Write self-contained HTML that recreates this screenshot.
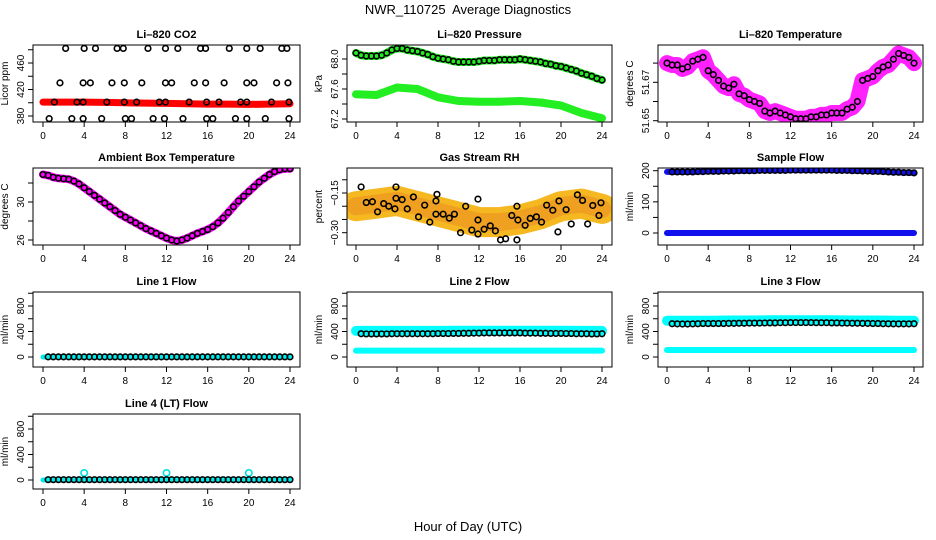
<!DOCTYPE html>
<html><head><meta charset="utf-8">
<style>
html,body{margin:0;padding:0;background:#fff;}
svg{display:block;font-family:"Liberation Sans",Arial,sans-serif;}
</style></head>
<body>
<svg id="chart" width="936" height="540" viewBox="0 0 936 540">
<rect x="0" y="0" width="936" height="540" fill="#fff"/>
<text x="468" y="14" text-anchor="middle" font-size="13" style="white-space:pre">NWR_110725  Average Diagnostics</text>
<text x="468" y="531" text-anchor="middle" font-size="13">Hour of Day (UTC)</text>
</svg>
<script>
const H49 = [0,0.5,1,1.5,2,2.5,3,3.5,4,4.5,5,5.5,6,6.5,7,7.5,8,8.5,9,9.5,10,10.5,11,11.5,12,12.5,13,13.5,14,14.5,15,15.5,16,16.5,17,17.5,18,18.5,19,19.5,20,20.5,21,21.5,22,22.5,23,23.5,24];
const H13 = [0,2,4,6,8,10,12,14,16,18,20,22,24];
const xTicks = [0,4,8,12,16,20,24];

// Li-820 CO2
const co2BandVals = [401,401,401,400.5,400,399.5,399,398.5,398,398,397.5,398,398.5];
const co2Hours = [2.2,4.0,5.1,7.2,7.8,10.2,11.9,13.1,15.3,15.8,18.1,19.8,21.1,23.2,23.7,
  1.65,3.9,4.6,6.7,7.9,9.6,11.9,12.5,14.7,15.8,17.6,19.8,20.5,22.7,23.8,
  1.1,3.3,3.9,6.2,7.9,9.1,11.3,11.9,14.2,15.9,17.1,19.2,19.8,22.2,23.9,
  0.6,2.8,3.9,5.7,8.0,8.6,10.7,11.8,13.6,15.9,16.5,18.7,19.8,21.6,23.9];
const co2Vals = [482,482,482,482,482,482,482,482,482,482,482,482,482,482,482,
  430,430,430,430,430,430,430,430,430,430,430,430,430,430,430,
  401,401,401,401,401,401,401,401,401,401,401,401,401,401,401,
  376,376,376,376,376,376,376,376,376,376,376,376,376,376,376];

// Li-820 Pressure
const presUpper = [68.08,68.05,68.04,68.04,68.04,68.05,68.08,68.12,68.14,68.14,68.12,68.11,68.10,68.08,68.06,68.03,68.01,68.0,67.99,67.97,67.96,67.96,67.96,67.96,67.97,67.98,67.98,67.98,67.99,67.99,67.99,67.99,68.0,67.99,67.98,67.97,67.96,67.94,67.93,67.91,67.90,67.88,67.86,67.84,67.81,67.79,67.77,67.74,67.72];
const presLower = [67.53,67.52,67.62,67.60,67.49,67.44,67.43,67.43,67.44,67.42,67.38,67.28,67.21];

// Li-820 Temperature
const ltemp = [51.680,51.679,51.679,51.677,51.678,51.681,51.682,51.683,51.676,51.674,51.671,51.668,51.667,51.669,51.664,51.663,51.661,51.660,51.659,51.655,51.654,51.655,51.654,51.653,51.652,51.651,51.651,51.651,51.652,51.652,51.653,51.653,51.654,51.654,51.654,51.656,51.657,51.660,51.671,51.672,51.673,51.676,51.678,51.679,51.682,51.685,51.684,51.683,51.680];

// Ambient Box Temperature
const ambient = [32.9,32.8,32.6,32.5,32.45,32.4,32.2,31.9,31.5,31.1,30.7,30.3,29.9,29.5,29.1,28.7,28.4,28.1,27.8,27.5,27.2,26.95,26.7,26.45,26.2,26.0,25.9,26.0,26.2,26.45,26.7,26.9,27.1,27.4,27.8,28.3,28.9,29.5,30.1,30.6,31.1,31.6,32.1,32.5,32.9,33.2,33.4,33.5,33.5];

// Gas Stream RH
const rhBand = [-0.20,-0.19,-0.18,-0.20,-0.22,-0.24,-0.26,-0.26,-0.25,-0.23,-0.20,-0.19,-0.21];
const rhHours = [0.5,1.0,1.6,2.1,2.7,3.2,3.8,3.9,3.9,4.5,5.0,5.6,6.1,6.7,7.2,7.8,7.9,7.8,8.5,9.1,9.6,10.2,10.7,11.3,11.9,11.9,11.9,12.5,13.1,13.6,14.1,14.6,15.2,15.7,15.7,15.8,16.5,17.0,17.6,18.1,18.6,19.2,19.7,19.8,20.5,21.0,21.6,22.1,22.6,23.1,23.7,23.9];
const rhVals = [-0.127,-0.186,-0.183,-0.221,-0.19,-0.2,-0.21,-0.127,-0.17,-0.175,-0.21,-0.165,-0.24,-0.196,-0.26,-0.18,-0.155,-0.23,-0.23,-0.245,-0.23,-0.30,-0.2,-0.29,-0.305,-0.173,-0.252,-0.287,-0.274,-0.293,-0.327,-0.323,-0.235,-0.2,-0.327,-0.252,-0.272,-0.246,-0.24,-0.26,-0.196,-0.215,-0.297,-0.18,-0.213,-0.267,-0.157,-0.178,-0.267,-0.197,-0.235,-0.187];

// Sample Flow
const sampleUpper = [196,196,196,196,196,196,197,197,198,198,198,199,199,199,200,200,200,200,201,201,201,201,201,201,202,202,202,202,202,202,202,202,202,201,201,201,200,200,199,199,198,198,197,196,195,195,194,194,193];
const sampleLower = [0,0,0,0,0,0,0,0,0,0,0,0,0];

// Line flows
const line1Cyan = [0,0,0,0,0,0,0,0,0,0,0,0,0];
const line1Black = [2,2,2,2,2,2,2,2,2,2,2,2,2,2,2,2,2,2,2,2,2,2,2,2,2,2,2,2,2,2,2,2,2,2,2,2,2,2,2,2,2,2,2,2,2,2,2,2,2];
const line2Upper = [410,410,410,410,410,412,412,412,412,412,412,410,410];
const line2Lower = [100,100,100,100,100,100,100,100,100,100,100,100,100];
const line2Black = [370,365,362,362,362,362,362,365,365,365,365,365,365,365,365,365,368,368,368,370,370,372,372,375,375,378,378,378,378,378,378,378,378,375,375,375,372,372,370,370,370,368,368,365,365,365,362,362,365];
const line3Upper = [570,570,570,572,572,575,575,575,575,572,572,570,570];
const line3Lower = [110,110,110,110,110,110,110,110,110,110,110,110,110];
const line3Black = [525,522,520,518,518,520,522,525,525,525,525,525,528,528,530,530,532,532,532,534,535,535,538,538,540,540,540,540,540,538,538,538,535,535,532,532,530,530,528,528,525,525,522,522,520,520,520,520,522];
const line4Cyan = [0,0,0,0,0,0,0,0,0,0,0,0,0];
const line4SpikeHours = [4,12,20];
const line4SpikeVals = [110,110,110];
const line4Black = [5,5,5,5,5,5,5,5,5,5,5,5,5,5,5,5,5,5,5,5,5,5,5,5,5,5,5,5,5,5,5,5,5,5,5,5,5,5,5,5,5,5,5,5,5,5,5,5,5];

const NS = "http://www.w3.org/2000/svg";
const svg = document.getElementById('chart');
const COLS = [{l:33,r:300,x0:43,x24:290},{l:347,r:612,x0:356,x24:602},{l:658,r:923,x0:667,x24:914}];
const ROWS = [{t:45,b:122},{t:168,b:245},{t:292,b:367},{t:414,b:489}];

function mk(tag, attrs, parent){
  const e = document.createElementNS(NS, tag);
  for (const k in attrs) e.setAttribute(k, attrs[k]);
  (parent||svg).appendChild(e);
  return e;
}

function panel(name, col, row, title, ylab, v1, p1, v2, p2, yticks, ylabels, ylabelTexts){
  const c = COLS[col], r = ROWS[row];
  const g = mk('g', {});
  
  
  const x = h => c.x0 + h/24*(c.x24-c.x0);
  const y = v => p1 + (v-v1)/(v2-v1)*(p2-p1);
  const plot = mk('g', {}, g);
  
  
  const t = mk('text', {x:(c.l+c.r)/2, y:r.t-7, 'text-anchor':'middle', 'font-size':11, 'font-weight':'bold'}, g);
  
  
  t.textContent = title;
  const xa = mk('g', {}, g);
  
  
  mk('line', {x1:c.x0, x2:c.x24, y1:r.b, y2:r.b, stroke:'#000'}, xa);
  xTicks.forEach(h => {
    mk('line', {x1:x(h), x2:x(h), y1:r.b, y2:r.b+5, stroke:'#000'}, xa);
    const tl = mk('text', {x:x(h), y:r.b+17, 'text-anchor':'middle', 'font-size':10}, xa);
    
    
    tl.textContent = h;
  });
  const ya = mk('g', {}, g);
  
  
  mk('line', {x1:c.l, x2:c.l, y1:y(yticks[0]), y2:y(yticks[yticks.length-1]), stroke:'#000'}, ya);
  yticks.forEach(v => mk('line', {x1:c.l-5, x2:c.l, y1:y(v), y2:y(v), stroke:'#000'}, ya));
  ylabels.forEach((v,i) => {
    const tx = c.l-9, ty = y(v);
    const tl = mk('text', {x:tx, y:ty, 'text-anchor':'middle', 'font-size':10, transform:`rotate(-90 ${tx} ${ty})`}, ya);
    
    
    tl.textContent = ylabelTexts[i];
  });
  const yt = mk('text', {x:c.l-25, y:(r.t+r.b)/2, 'text-anchor':'middle', 'font-size':10, transform:`rotate(-90 ${c.l-25} ${(r.t+r.b)/2})`}, g);
  
  
  yt.textContent = ylab;
  const box = {l:c.l, r:c.r, t:r.t, b:r.b};
  return {x, y, plot, g, box};
}
function finishBox(P, name){
  const b = mk('rect', {x:P.box.l, y:P.box.t, width:P.box.r-P.box.l, height:P.box.b-P.box.t, fill:'none', stroke:'#000'}, P.g);
  
  
}
function band(P, hours, vals, color, w, name){
  const pts = hours.map((h,i)=>P.x(h).toFixed(1)+','+P.y(vals[i]).toFixed(1)).join(' ');
  const pl = mk('polyline', {points:pts, fill:'none', stroke:color, 'stroke-width':w, 'stroke-linecap':'round', 'stroke-linejoin':'round'}, P.plot);
  
  
}
function circles(P, hours, vals, color, name, r){
  hours.forEach((h,i) => {
    const ci = mk('circle', {cx:P.x(h), cy:P.y(vals[i]), r:r||2.8, fill:'none', stroke:color, 'stroke-width':1.6}, P.plot);
    
    
  });
}
function clip(P, name){
  const id = 'clip-' + name;
  const cp = mk('clipPath', {id:id});
  mk('rect', {x:P.box.l, y:P.box.t, width:P.box.r-P.box.l, height:P.box.b-P.box.t}, cp);
  P.plot.setAttribute('clip-path', `url(#${id})`);
}

let P = panel('co2', 0, 0, 'Li\u2013820 CO2', 'Licor ppm', 380, 116, 460, 63, [380,400,420,440,460,480], [380,420,460], ['380','420','460']);
clip(P,'co2');
band(P, H13, co2BandVals, '#ff0000', 7, 'co2-band');
circles(P, co2Hours, co2Vals, '#000', 'co2-point');
finishBox(P,'co2');

P = panel('pressure', 1, 0, 'Li\u2013820 Pressure', 'kPa', 68.0, 59, 67.2, 119, [67.2,67.4,67.6,67.8,68.0], [67.2,67.6,68.0], ['67.2','67.6','68.0']);
clip(P,'pressure');
band(P, H13, presLower, '#22ee22', 8, 'pressure-lower-band');
band(P, H49, presUpper, '#22ee22', 8, 'pressure-upper-band');
circles(P, H49, presUpper, '#000', 'pressure-point');
finishBox(P,'pressure');

P = panel('licor-temp', 2, 0, 'Li\u2013820 Temperature', 'degrees C', 51.65, 120.7, 51.67, 82.3, [51.65,51.66,51.67,51.68], [51.65,51.67], ['51.65','51.67']);
clip(P,'ltemp');
band(P, H49, ltemp, '#ff22ff', 16, 'licor-temp-band');
circles(P, H49, ltemp, '#000', 'licor-temp-point');
finishBox(P,'licor-temp');

P = panel('ambient', 0, 1, 'Ambient Box Temperature', 'degrees C', 26, 240, 30, 202, [26,28,30,32], [26,30], ['26','30']);
clip(P,'ambient');
band(P, H49, ambient, '#ff00ff', 8, 'ambient-band');
circles(P, H49, ambient, '#000', 'ambient-point');
finishBox(P,'ambient');

P = panel('rh', 1, 1, 'Gas Stream RH', 'percent', -0.15, 193, -0.30, 232.7, [-0.30,-0.25,-0.20,-0.15,-0.10], [-0.30,-0.15], ['\u22120.30','\u22120.15']);
clip(P,'rh');
band(P, H13, rhBand, '#f5b820', 30, 'rh-band-outer');
band(P, H13, rhBand, '#f0a020', 18, 'rh-band-inner');
circles(P, rhHours, rhVals, '#000', 'rh-point');
finishBox(P,'rh');

P = panel('sample-flow', 2, 1, 'Sample Flow', 'ml/min', 0, 233, 200, 170.7, [0,50,100,150,200], [0,100,200], ['0','100','200']);
clip(P,'sample');
band(P, H13, sampleLower, '#1010ee', 6, 'sample-lower-band');
band(P, H49, sampleUpper, '#1010ee', 6, 'sample-upper-band');
circles(P, H49.slice(1), sampleUpper.slice(1), '#000', 'sample-point');
finishBox(P,'sample-flow');

const flowTicks = [0,200,400,600,800,1000];
P = panel('line1', 0, 2, 'Line 1 Flow', 'ml/min', 0, 357, 800, 306, flowTicks, [0,400,800], ['0','400','800']);
clip(P,'l1');
band(P, H13, line1Cyan, '#00eeee', 5, 'line1-cyan-band');
circles(P, H49.slice(1), line1Black.slice(1), '#000', 'line1-point');
finishBox(P,'line1');

P = panel('line2', 1, 2, 'Line 2 Flow', 'ml/min', 0, 357, 800, 306, flowTicks, [0,400,800], ['0','400','800']);
clip(P,'l2');
band(P, H13, line2Lower, '#00ffff', 6, 'line2-lower-band');
band(P, H13, line2Upper, '#00ffff', 10, 'line2-upper-band');
circles(P, H49.slice(1), line2Black.slice(1), '#000', 'line2-point');
finishBox(P,'line2');

P = panel('line3', 2, 2, 'Line 3 Flow', 'ml/min', 0, 357, 800, 306, flowTicks, [0,400,800], ['0','400','800']);
clip(P,'l3');
band(P, H13, line3Lower, '#00ffff', 6, 'line3-lower-band');
band(P, H13, line3Upper, '#00ffff', 10, 'line3-upper-band');
circles(P, H49.slice(1), line3Black.slice(1), '#000', 'line3-point');
finishBox(P,'line3');

P = panel('line4', 0, 3, 'Line 4 (LT) Flow', 'ml/min', 0, 480, 800, 429, flowTicks, [0,400,800], ['0','400','800']);
clip(P,'l4');
band(P, H13, line4Cyan, '#00eeee', 5, 'line4-cyan-band');
circles(P, line4SpikeHours, line4SpikeVals, '#00e0e0', 'line4-spike-point', 3.2);
circles(P, H49.slice(1), line4Black.slice(1), '#000', 'line4-point');
finishBox(P,'line4');
</script>
</body></html>
